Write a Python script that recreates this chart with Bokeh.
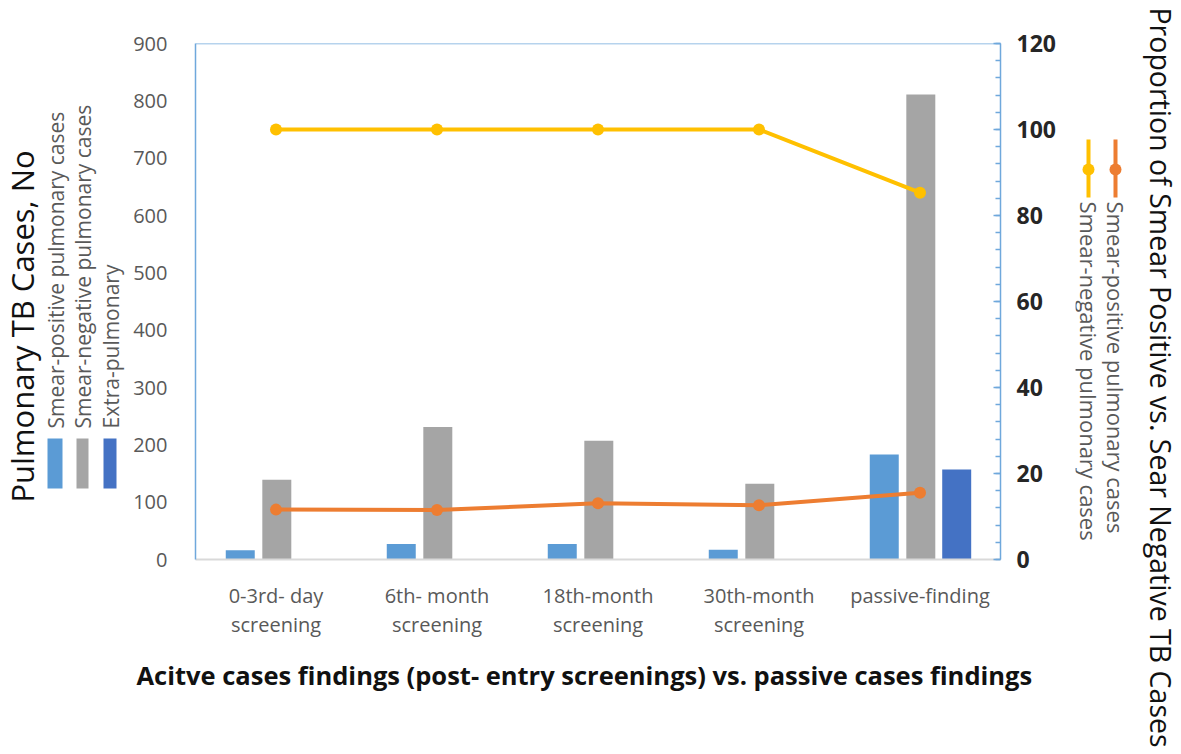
import math
from bokeh.plotting import figure
from bokeh.layouts import row, column
from bokeh.models import (FactorRange, Range1d, LinearAxis, FixedTicker, ColumnDataSource, Span, Title)
from bokeh.core.properties import value
from bokeh.transform import dodge
from bokeh.embed import file_html
from bokeh.resources import INLINE

# ---------------- data ----------------
categories = ["0-3rd- day\nscreening", "6th- month\nscreening", "18th-month\nscreening",
              "30th-month\nscreening", "passive-finding"]
smear_pos_cases = [16, 27, 27, 17, 183]
smear_neg_cases = [139, 231, 207, 132, 811]
extra_pulm_cases = [0, 0, 0, 0, 157]
pct_smear_pos = [11.6, 11.5, 13.1, 12.6, 15.5]
pct_smear_neg = [100, 100, 100, 100, 85.3]
left_ticks = [0, 100, 200, 300, 400, 500, 600, 700, 800, 900]
right_ticks = [0, 20, 40, 60, 80, 100, 120]
right_minor = list(range(0, 121, 4))

bar_names = ["Smear-positive pulmonary cases", "Smear-negative pulmonary cases", "Extra-pulmonary"]
line_names = ["Smear-positive pulmonary cases", "Smear-negative pulmonary cases"]
y_title_left = "Pulmonary TB Cases, No"
y_title_right = "Proportion of Smear Positive vs. Sear Negative TB Cases"
x_title = "Acitve cases findings (post- entry screenings) vs. passive cases findings"

C_POS = "#5B9BD5"
C_NEG = "#A5A5A5"
C_EXT = "#4472C4"
C_ORANGE = "#ED7D31"
C_YELLOW = "#FFC000"
C_AXIS = "#6FA8DC"
FONT = "Open Sans"

# ---------------- layout geometry (page px) ----------------
TOTAL_H = 752
LEFT_W = 130              # left panel: y title + bar legend
MAIN_W = 945              # main chart
RIGHT_W = 104             # right panel: line legend + right title
FRAME_L, FRAME_R, FRAME_T, FRAME_B = 192, 1000, 43, 559


def blank(width, height):
    f = figure(width=width, height=height, min_border=0, x_axis_location=None,
               y_axis_location=None, output_backend="svg", toolbar_location=None,
               x_range=Range1d(0, width), y_range=Range1d(0, height))
    f.outline_line_color = None
    f.grid.visible = False
    return f


# ---------------- main chart ----------------
p = figure(x_range=FactorRange(*categories, range_padding=0), y_range=Range1d(0, 900),
           width=MAIN_W, height=TOTAL_H,
           min_border_left=FRAME_L - LEFT_W, min_border_right=LEFT_W + MAIN_W - FRAME_R,
           min_border_top=FRAME_T, min_border_bottom=TOTAL_H - FRAME_B,
           output_backend="svg", toolbar_location=None)
p.outline_line_color = None
p.grid.visible = False

src = ColumnDataSource(dict(cat=categories, pos=smear_pos_cases, neg=smear_neg_cases,
                            ext=extra_pulm_cases, ppos=pct_smear_pos, pneg=pct_smear_neg))

bw = 0.18
p.vbar(x=dodge("cat", -0.222, range=p.x_range), top="pos", width=bw, source=src,
       fill_color=C_POS, line_color=None)
p.vbar(x=dodge("cat", 0.005, range=p.x_range), top="neg", width=bw, source=src,
       fill_color=C_NEG, line_color=None)
p.vbar(x=dodge("cat", 0.228, range=p.x_range), top="ext", width=bw, source=src,
       fill_color=C_EXT, line_color=None)

p.extra_y_ranges = {"pct": Range1d(0, 120)}
p.line(x="cat", y="pneg", source=src, y_range_name="pct", line_color=C_YELLOW, line_width=4)
p.scatter(x="cat", y="pneg", source=src, y_range_name="pct", marker="circle", size=12,
          fill_color=C_YELLOW, line_color=None)
p.line(x="cat", y="ppos", source=src, y_range_name="pct", line_color=C_ORANGE, line_width=4)
p.scatter(x="cat", y="ppos", source=src, y_range_name="pct", marker="circle", size=12,
          fill_color=C_ORANGE, line_color=None)

ya = p.yaxis[0]
ya.ticker = FixedTicker(ticks=left_ticks)
ya.axis_line_color = C_AXIS
ya.axis_line_width = 1.5
ya.major_tick_line_color = None
ya.minor_tick_line_color = None
ya.major_label_standoff = 22
ya.major_label_text_font = FONT
ya.major_label_text_font_size = "20px"
ya.major_label_text_color = "#595959"

ra = LinearAxis(y_range_name="pct", ticker=FixedTicker(ticks=right_ticks, minor_ticks=right_minor))
ra.axis_line_color = C_AXIS
ra.axis_line_width = 1.5
ra.major_tick_in = 7
ra.major_tick_out = 0
ra.minor_tick_in = 5
ra.minor_tick_out = 0
ra.major_tick_line_color = C_AXIS
ra.minor_tick_line_color = C_AXIS
ra.major_tick_line_width = 1.5
ra.minor_tick_line_width = 1.5
ra.major_label_standoff = 16
ra.major_label_text_font = FONT
ra.major_label_text_font_size = "23px"
ra.major_label_text_font_style = "bold"
ra.major_label_text_color = "#262626"
p.add_layout(ra, "right")

xa = p.xaxis[0]
xa.axis_line_color = "#D9D9D9"
xa.axis_line_width = 2
xa.major_tick_line_color = None
xa.minor_tick_line_color = None
xa.major_label_standoff = 16
xa.major_label_text_font = FONT
xa.major_label_text_font_size = "20px"
xa.major_label_text_color = "#595959"
xa.major_label_text_line_height = 1.1

p.add_layout(Span(location=900, dimension="width", line_color=C_AXIS, line_width=1.5))

# x title as a "below" title (not clipped by the frame)
p.add_layout(Title(text=x_title, align="left", offset=-59, standoff=28,
                   text_font=FONT, text_font_size="25.5px", text_font_style="bold",
                   text_color="#111111"), "below")

# ---------------- left panel ----------------
lf = blank(LEFT_W, TOTAL_H)
def LX(px): return px
def LY(py): return TOTAL_H - py

lf.text(x=[LX(21)], y=[LY(326)], text=[y_title_left], angle=math.pi / 2,
        text_align="center", text_baseline="middle", text_font=value(FONT),
        text_font_size=value("31px"), text_color="#111111")
sw_x = [54.5, 82, 109.5]
sw_w = [15, 12, 13]
lf.rect(x=[LX(v) for v in sw_x], y=[LY(463)] * 3, width=sw_w, height=[50] * 3,
        fill_color=[C_POS, C_NEG, C_EXT], line_color=None)
lf.text(x=[LX(55), LX(82), LX(110)], y=[LY(428)] * 3, text=bar_names, angle=math.pi / 2,
        text_align="left", text_baseline="middle", text_font=value(FONT),
        text_font_size=value("21px"), text_color="#595959")

# ---------------- right panel ----------------
X0R = LEFT_W + MAIN_W
rf = blank(RIGHT_W, TOTAL_H)
def RX(px): return px - X0R
def RY(py): return TOTAL_H - py

leg_x = [1115, 1088]
leg_c = [C_ORANGE, C_YELLOW]
rf.segment(x0=[RX(v) for v in leg_x], y0=[RY(139)] * 2, x1=[RX(v) for v in leg_x],
           y1=[RY(197)] * 2, line_color=leg_c, line_width=4)
rf.scatter(x=[RX(v) for v in leg_x], y=[RY(169)] * 2, marker="circle", size=12,
           fill_color=leg_c, line_color=None)
rf.text(x=[RX(v) for v in leg_x], y=[RY(201)] * 2, text=line_names, angle=-math.pi / 2,
        text_align="left", text_baseline="middle", text_font=value(FONT),
        text_font_size=value("22px"), text_color="#595959")
rf.text(x=[RX(1160)], y=[RY(377)], text=[y_title_right], angle=-math.pi / 2,
        text_align="center", text_baseline="middle", text_font=value(FONT),
        text_font_size=value("28.5px"), text_color="#111111")

layout = row(lf, column(p, spacing=0), rf, spacing=0)
open("out.html", "w").write(file_html(layout, INLINE))
